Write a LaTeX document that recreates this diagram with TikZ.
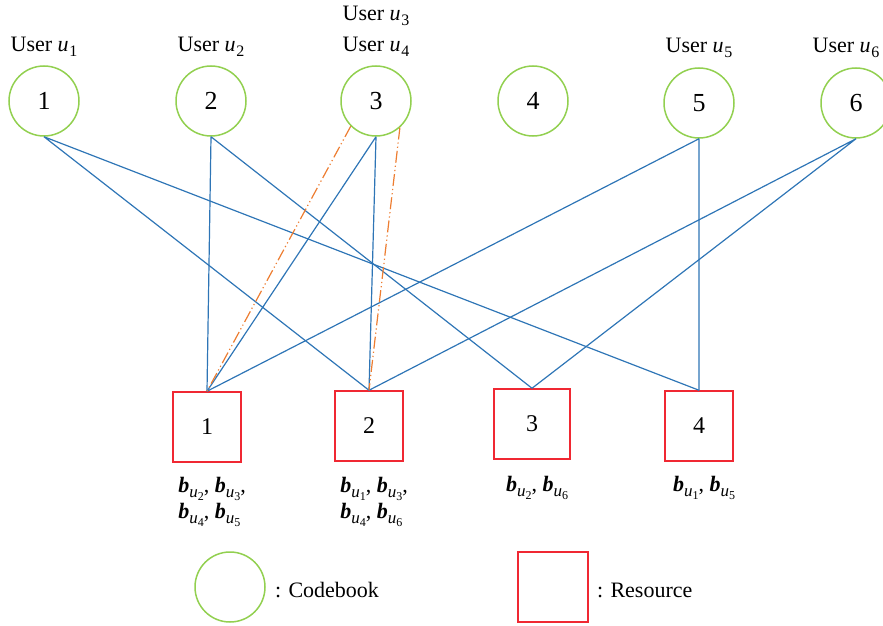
\documentclass[tikz,border=0pt]{standalone}
\usepackage{fontspec}
\setmainfont{Liberation Serif}
\definecolor{cbgreen}{RGB}{146,208,80}
\definecolor{resred}{RGB}{240,40,50}
\definecolor{linkblue}{RGB}{46,117,182}
\definecolor{dashorange}{RGB}{237,125,49}
\newcommand{\usr}[1]{\textit{u}\kern0.3pt\raisebox{-0.45ex}{\fontsize{8}{9}\selectfont#1}}
\newcommand{\cw}[1]{\textbf{\textit{b}}\raisebox{-0.55ex}{\fontsize{8.5}{9}\selectfont\textit{u}\raisebox{-0.4ex}{\fontsize{6}{7}\selectfont#1}}}

\begin{document}
\begin{tikzpicture}[x=0.5pt,y=-0.5pt,
  cbk/.style={circle,draw=cbgreen,line width=0.75pt,minimum size=35pt,inner sep=0pt,font=\fontsize{13}{15}\selectfont},
  res/.style={rectangle,draw=resred,line width=0.75pt,minimum width=34pt,minimum height=35pt,inner sep=0pt,font=\fontsize{12}{14}\selectfont},
  link/.style={draw=linkblue,line width=0.6pt},
  linkdd/.style={draw=dashorange,line width=0.6pt,dash pattern=on 6pt off 1.5pt on 0.6pt off 1.5pt on 0.6pt off 1.5pt},
  lbl/.style={font=\fontsize{11}{13}\selectfont}]
\useasboundingbox (0,0) rectangle (883,626);
% codebooks
\foreach \n/\x/\y in {1/44/101,2/211/101,3/376/101,4/533/101,5/699/103,6/856/103}
  \node[cbk] (c\n) at (\x,\y) {\n};
% resources
\foreach \n/\x/\y in {1/207/427,2/369/426,4/699/426}
  \node[res] (r\n) at (\x,\y) {\n};
\node[res,minimum width=38pt] (r3) at (532,424) {3};
% users
\node[lbl] (u1) at (44,47) {User \usr{1}};
\node[lbl] (u2) at (211,47) {User \usr{2}};
\node[lbl] (u3) at (376,16) {User \usr{3}};
\node[lbl] (u4) at (376,47) {User \usr{4}};
\node[lbl] (u5) at (699,48) {User \usr{5}};
\node[lbl] (u6) at (846,48) {User \usr{6}};
% connections
\draw[link] (c1.south) -- (r2.north) (c1.south) -- (r4.north);
\draw[link] (c2.south) -- (r1.north) (c2.south) -- (r3.north);
\draw[link] (c3.south) -- (r1.north) (c3.south) -- (r2.north);
\draw[link] (c5.south) -- (r1.north) (c5.south) -- (r4.north);
\draw[link] (c6.south) -- (r2.north) (c6.south) -- (r3.north);
\draw[linkdd] (c3.225) -- (r1.north);
\draw[linkdd] (c3.-48) -- (r2.north);
% superimposed codewords
\node[lbl,align=left] (b1) at (212,502) {\cw{2}, \cw{3},\\\cw{4}, \cw{5}};
\node[lbl,align=left] (b2) at (374,502) {\cw{1}, \cw{3},\\\cw{4}, \cw{6}};
\node[lbl] (b3) at (537,488) {\cw{2}, \cw{6}};
\node[lbl] (b4) at (704,488) {\cw{1}, \cw{5}};
% legend
\node[cbk] (lc) at (230,587) {};
\node[lbl,anchor=west] (lct) at (268,590) {: Codebook};
\node[res,minimum width=35pt] (lr) at (553,587) {};
\node[lbl,anchor=west] (lrt) at (590,590) {: Resource};
\end{tikzpicture}
\end{document}
